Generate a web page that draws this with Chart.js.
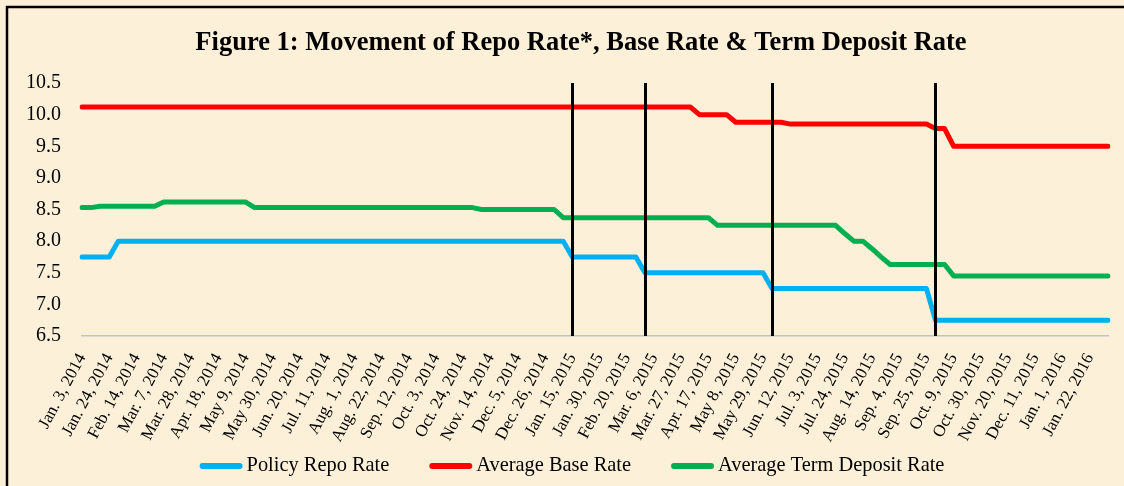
<!DOCTYPE html>
<html>
<head>
<meta charset="utf-8">
<script src="https://cdn.jsdelivr.net/npm/chart.js@4/dist/chart.umd.min.js"></script>
<style>
  body { margin: 0; background: #fdf0d8; overflow: hidden; }
</style>
</head>
<body>
<canvas id="rate-chart" width="1124" height="486"></canvas>
<script>
const chartTitle = 'Figure 1: Movement of Repo Rate*, Base Rate & Term Deposit Rate';

// every third week gets a label on the axis
const tickLabels = ['Jan. 3, 2014','Jan. 24, 2014','Feb. 14, 2014','Mar. 7, 2014','Mar. 28, 2014','Apr. 18, 2014',
  'May 9, 2014','May 30, 2014','Jun. 20, 2014','Jul. 11, 2014','Aug. 1, 2014','Aug. 22, 2014','Sep. 12, 2014',
  'Oct. 3, 2014','Oct. 24, 2014','Nov. 14, 2014','Dec. 5, 2014','Dec. 26, 2014','Jan. 15, 2015','Jan. 30, 2015',
  'Feb. 20, 2015','Mar. 6, 2015','Mar. 27, 2015','Apr. 17, 2015','May 8, 2015','May 29, 2015','Jun. 12, 2015',
  'Jul. 3, 2015','Jul. 24, 2015','Aug. 14, 2015','Sep. 4, 2015','Sep. 25, 2015','Oct. 9, 2015','Oct. 30, 2015',
  'Nov. 20, 2015','Dec. 11, 2015','Jan. 1, 2016','Jan. 22, 2016'];

const repoRate = [
  7.75,7.75,7.75,7.75,8,8,8,8,8,8,
  8,8,8,8,8,8,8,8,8,8,
  8,8,8,8,8,8,8,8,8,8,
  8,8,8,8,8,8,8,8,8,8,
  8,8,8,8,8,8,8,8,8,8,
  8,8,8,8,7.75,7.75,7.75,7.75,7.75,7.75,
  7.75,7.75,7.5,7.5,7.5,7.5,7.5,7.5,7.5,7.5,
  7.5,7.5,7.5,7.5,7.5,7.5,7.25,7.25,7.25,7.25,
  7.25,7.25,7.25,7.25,7.25,7.25,7.25,7.25,7.25,7.25,
  7.25,7.25,7.25,7.25,6.75,6.75,6.75,6.75,6.75,6.75,
  6.75,6.75,6.75,6.75,6.75,6.75,6.75,6.75,6.75,6.75,
  6.75,6.75,6.75,6.75
];

const baseRate = [
  10.12,10.12,10.12,10.12,10.12,10.12,10.12,10.12,10.12,10.12,
  10.12,10.12,10.12,10.12,10.12,10.12,10.12,10.12,10.12,10.12,
  10.12,10.12,10.12,10.12,10.12,10.12,10.12,10.12,10.12,10.12,
  10.12,10.12,10.12,10.12,10.12,10.12,10.12,10.12,10.12,10.12,
  10.12,10.12,10.12,10.12,10.12,10.12,10.12,10.12,10.12,10.12,
  10.12,10.12,10.12,10.12,10.12,10.12,10.12,10.12,10.12,10.12,
  10.12,10.12,10.12,10.12,10.12,10.12,10.12,10.12,10,10,
  10,10,9.88,9.88,9.88,9.88,9.88,9.88,9.85,9.85,
  9.85,9.85,9.85,9.85,9.85,9.85,9.85,9.85,9.85,9.85,
  9.85,9.85,9.85,9.85,9.78,9.78,9.5,9.5,9.5,9.5,
  9.5,9.5,9.5,9.5,9.5,9.5,9.5,9.5,9.5,9.5,
  9.5,9.5,9.5,9.5
];

const depositRate = [
  8.53,8.53,8.55,8.55,8.55,8.55,8.55,8.55,8.55,8.62,
  8.62,8.62,8.62,8.62,8.62,8.62,8.62,8.62,8.62,8.53,
  8.53,8.53,8.53,8.53,8.53,8.53,8.53,8.53,8.53,8.53,
  8.53,8.53,8.53,8.53,8.53,8.53,8.53,8.53,8.53,8.53,
  8.53,8.53,8.53,8.53,8.5,8.5,8.5,8.5,8.5,8.5,
  8.5,8.5,8.5,8.37,8.37,8.37,8.37,8.37,8.37,8.37,
  8.37,8.37,8.37,8.37,8.37,8.37,8.37,8.37,8.37,8.37,
  8.25,8.25,8.25,8.25,8.25,8.25,8.25,8.25,8.25,8.25,
  8.25,8.25,8.25,8.25,8.12,8,8,7.88,7.75,7.63,
  7.63,7.63,7.63,7.63,7.63,7.63,7.45,7.45,7.45,7.45,
  7.45,7.45,7.45,7.45,7.45,7.45,7.45,7.45,7.45,7.45,
  7.45,7.45,7.45,7.45
];

// weeks where the repo rate was changed (black markers)
const policyChangeIdx = [54, 62, 76, 94];

const labels = repoRate.map((v, i) => (i % 3 === 0 ? tickLabels[i / 3] : ''));

const serif = 'Liberation Serif';

const markerLines = {
  id: 'markerLines',
  afterDatasetsDraw(chart) {
    const ctx = chart.ctx, xs = chart.scales.x, ys = chart.scales.y;
    ctx.save();
    ctx.strokeStyle = '#000';
    ctx.lineWidth = 3;
    policyChangeIdx.forEach(idx => {
      const px = Math.round(xs.getPixelForValue(idx)) + 0.5;
      ctx.beginPath();
      ctx.moveTo(px, ys.getPixelForValue(10.5));
      ctx.lineTo(px, ys.bottom);
      ctx.stroke();
    });
    ctx.restore();
  }
};

// title, legend row with short thick swatches, and the page frame
const decorations = {
  id: 'decorations',
  afterDraw(chart) {
    const ctx = chart.ctx;
    ctx.save();
    ctx.fillStyle = '#000';
    ctx.textAlign = 'center';
    ctx.textBaseline = 'middle';
    ctx.font = 'bold 26.5px "' + serif + '"';
    ctx.fillText(chartTitle, 581, 43);

    const sets = chart.data.datasets;
    const swatch = 43, textGap = 4, itemGap = 40, cy = 466;
    ctx.textAlign = 'left';
    ctx.font = '20.4px "' + serif + '"';
    const widths = sets.map(d => swatch + textGap + ctx.measureText(d.label).width);
    const total = widths.reduce((a, b) => a + b, 0) + itemGap * (sets.length - 1);
    let x = 572 - total / 2;
    sets.forEach((d, i) => {
      ctx.strokeStyle = d.borderColor;
      ctx.lineWidth = 6;
      ctx.lineCap = 'round';
      ctx.beginPath();
      ctx.moveTo(x + 3, cy);
      ctx.lineTo(x + swatch - 3, cy);
      ctx.stroke();
      ctx.fillStyle = '#000';
      ctx.fillText(d.label, x + swatch + textGap, cy);
      x += widths[i] + itemGap;
    });

    ctx.strokeStyle = '#000';
    ctx.lineWidth = 2.5;
    ctx.lineCap = 'butt';
    ctx.beginPath();
    ctx.moveTo(7, chart.height);
    ctx.lineTo(7, 7);
    ctx.lineTo(chart.width, 7);
    ctx.stroke();
    ctx.restore();
  }
};

function series(label, data, color) {
  return {
    label: label,
    data: data,
    borderColor: color,
    backgroundColor: color,
    borderWidth: 5,
    borderCapStyle: 'round',
    borderJoinStyle: 'round',
    pointRadius: 0,
    tension: 0,
    fill: false
  };
}

new Chart(document.getElementById('rate-chart'), {
  type: 'line',
  data: {
    labels: labels,
    datasets: [
      series('Policy Repo Rate', repoRate, '#00b0f0'),
      series('Average Base Rate', baseRate, '#ff0000'),
      series('Average Term Deposit Rate', depositRate, '#00b050')
    ]
  },
  options: {
    responsive: false,
    devicePixelRatio: 1,
    animation: false,
    layout: { padding: { left: 26, right: 16, top: 83, bottom: 40 } },
    plugins: {
      title: { display: false },
      legend: { display: false },
      tooltip: { enabled: false }
    },
    scales: {
      x: {
        grid: { display: false, drawTicks: false },
        border: { display: true, color: '#b9c3d6', width: 1.5, dash: [5, 4] },
        ticks: {
          autoSkip: false,
          maxRotation: 62,
          minRotation: 62,
          padding: 14,
          color: '#000',
          font: { family: serif, size: 17 }
        },
        afterFit(scale) {
          scale.paddingLeft = 0;
          scale.paddingRight = 0;
          scale.height = 110;
        }
      },
      y: {
        min: 6.5,
        max: 10.5,
        grid: { display: false, drawTicks: false },
        border: { display: false },
        ticks: {
          stepSize: 0.5,
          padding: 21,
          color: '#000',
          font: { family: serif, size: 20 },
          callback: v => v.toFixed(1)
        },
        afterFit(scale) {
          scale.width = 56;
          scale.paddingTop = 0;
          scale.paddingBottom = 0;
        }
      }
    }
  },
  plugins: [markerLines, decorations]
});
</script>
</body>
</html>
